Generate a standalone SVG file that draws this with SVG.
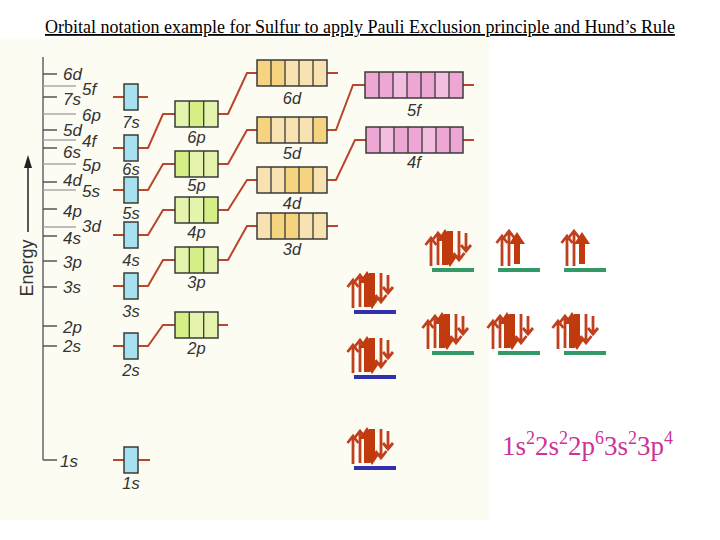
<svg xmlns="http://www.w3.org/2000/svg" xmlns:xlink="http://www.w3.org/1999/xlink" width="720" height="540" viewBox="0 0 720 540">
<style>
.lbl{font-family:"Liberation Sans","DejaVu Sans",sans-serif;font-size:16.5px;font-style:italic;fill:#333;}
.stub{stroke:#b8462a;stroke-width:2;fill:none;}
.box{fill:none;stroke:#3a3a3a;stroke-width:1.5;}
.div{stroke:#3a3a3a;stroke-width:1.3;}
.s{fill:#a6e1ef;}
.p1{fill:#d6ee86;} .p2{fill:#e4f4ac;}
.d1{fill:#f6d37f;} .d2{fill:#f9e2b2;}
.f1{fill:#eea6d4;} .f2{fill:#f3bde0;}
.tick{stroke:#555;stroke-width:1.5;}
.tickl{stroke:#aaa;stroke-width:1.5;}
.arr{fill:#c13a0e;}
.thin{stroke:#c0401e;stroke-width:2.8;fill:none;}
.blue{stroke:#3030b0;stroke-width:4;}
.green{stroke:#339966;stroke-width:4;}
</style>
<defs>
<g id="pair">
<path class="thin" d="M2,-2 V-30 M-3.5,-23 L2,-30 L7.5,-23"/>
<path class="thin" d="M9,-3 V-35 M3.5,-28 L9,-35 L14.5,-28"/>
<polygon class="arr" points="16,-39 24,-27 19,-27 19,-3 13,-3 13,-27 8,-27"/>
<polygon class="arr" points="21,-1 29,-13 24,-13 24,-37 18,-37 18,-13 13,-13"/>
<path class="thin" d="M30,-37 V-8 M24.5,-15 L30,-8 L35.5,-15"/>
<path class="thin" d="M37,-35 V-17 M32,-23 L37,-17 L42,-23"/>
</g>
<g id="half">
<path class="thin" d="M4,-2 V-32 M-1.5,-25 L4,-32 L9.5,-25"/>
<path class="thin" d="M11,-2 V-37 M5.5,-30 L11,-37 L16.5,-30"/>
<polygon class="arr" points="19,-36 27,-24 22,-24 22,-4 16,-4 16,-24 11,-24"/>
</g>
</defs>
<rect x="0" y="0" width="720" height="540" fill="#ffffff"/>
<rect x="0" y="38" width="490" height="482" fill="#fdfcf3"/>

<text x="45" y="33" font-family="Liberation Serif, serif" font-size="18" text-decoration="underline" fill="#000">Orbital notation example for Sulfur to apply Pauli Exclusion principle and Hund’s Rule</text>

<g id="axis">
<line x1="43" y1="57" x2="43" y2="460" stroke="#8a8a8a" stroke-width="2"/>
<g class="tick">
<line x1="43" y1="74" x2="57" y2="74"/><line x1="43" y1="97" x2="57" y2="97"/><line x1="43" y1="130" x2="57" y2="130"/>
<line x1="43" y1="148" x2="57" y2="148"/><line x1="43" y1="182" x2="57" y2="182"/><line x1="43" y1="209" x2="57" y2="209"/>
<line x1="43" y1="236" x2="57" y2="236"/><line x1="43" y1="261" x2="57" y2="261"/><line x1="43" y1="287" x2="57" y2="287"/>
<line x1="43" y1="326" x2="57" y2="326"/><line x1="43" y1="346" x2="57" y2="346"/><line x1="43" y1="460" x2="57" y2="460"/>
</g>
<g class="tickl">
<line x1="43" y1="86" x2="76" y2="86"/><line x1="43" y1="114" x2="76" y2="114"/><line x1="43" y1="140" x2="76" y2="140"/>
<line x1="43" y1="164" x2="76" y2="164"/><line x1="43" y1="190" x2="76" y2="190"/><line x1="43" y1="227" x2="76" y2="227"/>
</g>
<g class="lbl" style="font-size:17px">
<text x="63" y="80">6d</text><text x="63" y="105">7s</text><text x="63" y="136">5d</text><text x="63" y="158">6s</text>
<text x="63" y="186">4d</text><text x="63" y="217">4p</text><text x="63" y="244">4s</text><text x="63" y="268">3p</text>
<text x="63" y="293">3s</text><text x="63" y="333">2p</text><text x="63" y="352">2s</text><text x="60" y="467">1s</text>
<text x="82" y="95">5f</text><text x="82" y="121">6p</text><text x="82" y="147">4f</text><text x="82" y="171">5p</text>
<text x="82" y="197">5s</text><text x="82" y="232">3d</text>
</g>
<line x1="28" y1="166" x2="28" y2="232" stroke="#222" stroke-width="1.5"/>
<polygon points="28,155 24,168 32,168" fill="#222"/>
<text transform="translate(33,268) rotate(-90)" text-anchor="middle" font-family="Liberation Sans, sans-serif" font-size="18" fill="#333">Energy</text>
</g>

<g id="connectors" class="stub">
<path d="M113,97 H124 M113,148 H124 M113,190 H124 M113,235 H124 M113,286 H124 M113,346 H124 M113,460 H124"/>
<path d="M138,97 H148"/>
<path d="M138,148 H148 L163,114 H175"/>
<path d="M138,190 H148 L163,164 H175"/>
<path d="M138,235 H148 L163,210 H175"/>
<path d="M138,286 H148 L163,260 H175"/>
<path d="M138,346 H148 L163,325 H175"/>
<path d="M138,460 H150"/>
<path d="M218,114 H228 L247,73 H257"/>
<path d="M218,164 H228 L247,130 H257"/>
<path d="M218,210 H228 L247,180 H257"/>
<path d="M218,260 H228 L247,226 H257"/>
<path d="M218,325 H228"/>
<path d="M327,73 H338"/>
<path d="M327,130 H336 L353,85 H365"/>
<path d="M327,180 H336 L355,140 H366"/>
<path d="M327,226 H338"/>
<path d="M463,85 H474 M463,140 H474"/>
</g>

<g id="o-7s"><rect class="s" x="124" y="84" width="14" height="26"/><rect class="box" x="124" y="84" width="14" height="26"/><text class="lbl" x="131" y="128" text-anchor="middle">7s</text></g>
<g id="o-6s"><rect class="s" x="124" y="135" width="14" height="26"/><rect class="box" x="124" y="135" width="14" height="26"/><text class="lbl" x="131" y="175" text-anchor="middle">6s</text></g>
<g id="o-5s"><rect class="s" x="124" y="177" width="14" height="26"/><rect class="box" x="124" y="177" width="14" height="26"/><text class="lbl" x="131" y="219" text-anchor="middle">5s</text></g>
<g id="o-4s"><rect class="s" x="124" y="222" width="14" height="26"/><rect class="box" x="124" y="222" width="14" height="26"/><text class="lbl" x="131" y="266" text-anchor="middle">4s</text></g>
<g id="o-3s"><rect class="s" x="124" y="273" width="14" height="26"/><rect class="box" x="124" y="273" width="14" height="26"/><text class="lbl" x="131" y="317" text-anchor="middle">3s</text></g>
<g id="o-2s"><rect class="s" x="124" y="333" width="14" height="26"/><rect class="box" x="124" y="333" width="14" height="26"/><text class="lbl" x="131" y="376" text-anchor="middle">2s</text></g>
<g id="o-1s"><rect class="s" x="124" y="447" width="14" height="26"/><rect class="box" x="124" y="447" width="14" height="26"/><text class="lbl" x="131" y="489" text-anchor="middle">1s</text></g>

<g id="o-6p"><rect class="p2" x="175" y="101" width="14.3" height="26"/><rect class="p1" x="189.3" y="101" width="14.4" height="26"/><rect class="p2" x="203.7" y="101" width="14.3" height="26"/>
<path class="div" d="M189.3,101 V127 M203.7,101 V127"/><rect class="box" x="175" y="101" width="43" height="26"/><text class="lbl" x="196.5" y="143" text-anchor="middle">6p</text></g>
<g id="o-5p"><rect class="p1" x="175" y="151" width="14.3" height="26"/><rect class="p2" x="189.3" y="151" width="14.4" height="26"/><rect class="p2" x="203.7" y="151" width="14.3" height="26"/>
<path class="div" d="M189.3,151 V177 M203.7,151 V177"/><rect class="box" x="175" y="151" width="43" height="26"/><text class="lbl" x="196.5" y="191" text-anchor="middle">5p</text></g>
<g id="o-4p"><rect class="p2" x="175" y="197" width="14.3" height="26"/><rect class="p2" x="189.3" y="197" width="14.4" height="26"/><rect class="p1" x="203.7" y="197" width="14.3" height="26"/>
<path class="div" d="M189.3,197 V223 M203.7,197 V223"/><rect class="box" x="175" y="197" width="43" height="26"/><text class="lbl" x="196.5" y="238" text-anchor="middle">4p</text></g>
<g id="o-3p"><rect class="p2" x="175" y="247" width="14.3" height="26"/><rect class="p1" x="189.3" y="247" width="14.4" height="26"/><rect class="p2" x="203.7" y="247" width="14.3" height="26"/>
<path class="div" d="M189.3,247 V273 M203.7,247 V273"/><rect class="box" x="175" y="247" width="43" height="26"/><text class="lbl" x="196.5" y="288" text-anchor="middle">3p</text></g>
<g id="o-2p"><rect class="p1" x="175" y="312" width="14.3" height="26"/><rect class="p2" x="189.3" y="312" width="14.4" height="26"/><rect class="p2" x="203.7" y="312" width="14.3" height="26"/>
<path class="div" d="M189.3,312 V338 M203.7,312 V338"/><rect class="box" x="175" y="312" width="43" height="26"/><text class="lbl" x="196.5" y="354" text-anchor="middle">2p</text></g>

<g id="o-6d"><rect class="d1" x="257" y="60" width="14" height="26"/><rect class="d1" x="271" y="60" width="14" height="26"/><rect class="d2" x="285" y="60" width="14" height="26"/><rect class="d2" x="299" y="60" width="14" height="26"/><rect class="d2" x="313" y="60" width="14" height="26"/>
<path class="div" d="M271,60 V86 M285,60 V86 M299,60 V86 M313,60 V86"/><rect class="box" x="257" y="60" width="70" height="26"/><text class="lbl" x="292" y="104" text-anchor="middle">6d</text></g>
<g id="o-5d"><rect class="d1" x="257" y="117" width="14" height="26"/><rect class="d2" x="271" y="117" width="14" height="26"/><rect class="d2" x="285" y="117" width="14" height="26"/><rect class="d2" x="299" y="117" width="14" height="26"/><rect class="d1" x="313" y="117" width="14" height="26"/>
<path class="div" d="M271,117 V143 M285,117 V143 M299,117 V143 M313,117 V143"/><rect class="box" x="257" y="117" width="70" height="26"/><text class="lbl" x="292" y="159" text-anchor="middle">5d</text></g>
<g id="o-4d"><rect class="d2" x="257" y="167" width="14" height="26"/><rect class="d2" x="271" y="167" width="14" height="26"/><rect class="d1" x="285" y="167" width="14" height="26"/><rect class="d1" x="299" y="167" width="14" height="26"/><rect class="d2" x="313" y="167" width="14" height="26"/>
<path class="div" d="M271,167 V193 M285,167 V193 M299,167 V193 M313,167 V193"/><rect class="box" x="257" y="167" width="70" height="26"/><text class="lbl" x="292" y="209" text-anchor="middle">4d</text></g>
<g id="o-3d"><rect class="d2" x="257" y="213" width="14" height="26"/><rect class="d1" x="271" y="213" width="14" height="26"/><rect class="d1" x="285" y="213" width="14" height="26"/><rect class="d2" x="299" y="213" width="14" height="26"/><rect class="d2" x="313" y="213" width="14" height="26"/>
<path class="div" d="M271,213 V239 M285,213 V239 M299,213 V239 M313,213 V239"/><rect class="box" x="257" y="213" width="70" height="26"/><text class="lbl" x="292" y="255" text-anchor="middle">3d</text></g>

<g id="o-5f"><rect class="f1" x="365" y="72" width="98" height="26"/><rect class="f2" x="393" y="72" width="14" height="26"/><rect class="f2" x="435" y="72" width="14" height="26"/>
<path class="div" d="M379,72 V98 M393,72 V98 M407,72 V98 M421,72 V98 M435,72 V98 M449,72 V98"/><rect class="box" x="365" y="72" width="98" height="26"/><text class="lbl" x="414" y="116" text-anchor="middle">5f</text></g>
<g id="o-4f"><rect class="f1" x="366" y="127" width="97" height="26"/><rect class="f2" x="380" y="127" width="14" height="26"/><rect class="f2" x="422" y="127" width="14" height="26"/>
<path class="div" d="M380,127 V153 M394,127 V153 M408,127 V153 M422,127 V153 M436,127 V153 M450,127 V153"/><rect class="box" x="366" y="127" width="97" height="26"/><text class="lbl" x="414" y="168" text-anchor="middle">4f</text></g>

<g id="e-3s"><line class="blue" x1="354" y1="312" x2="396" y2="312"/><use xlink:href="#pair" href="#pair" transform="translate(351,310)"/></g>
<g id="e-2s"><line class="blue" x1="354" y1="377" x2="396" y2="377"/><use xlink:href="#pair" href="#pair" transform="translate(351,375)"/></g>
<g id="e-1s"><line class="blue" x1="354" y1="468" x2="396" y2="468"/><use xlink:href="#pair" href="#pair" transform="translate(351,466)"/></g>
<g id="e-3p">
<line class="green" x1="432" y1="270" x2="474" y2="270"/><line class="green" x1="498" y1="270" x2="540" y2="270"/><line class="green" x1="564" y1="270" x2="606" y2="270"/>
<use xlink:href="#pair" href="#pair" transform="translate(429,268)"/>
<use xlink:href="#half" href="#half" transform="translate(498,268)"/>
<use xlink:href="#half" href="#half" transform="translate(563,268)"/>
</g>
<g id="e-2p">
<line class="green" x1="432" y1="353" x2="474" y2="353"/><line class="green" x1="498" y1="353" x2="540" y2="353"/><line class="green" x1="564" y1="353" x2="606" y2="353"/>
<use xlink:href="#pair" href="#pair" transform="translate(426,351)"/>
<use xlink:href="#pair" href="#pair" transform="translate(491,351)"/>
<use xlink:href="#pair" href="#pair" transform="translate(556,351)"/>
</g>

<text id="config" x="502" y="455" font-family="Liberation Serif, serif" font-size="27" fill="#cc3399">1s<tspan dy="-11" font-size="18">2</tspan><tspan dy="11">2s</tspan><tspan dy="-11" font-size="18">2</tspan><tspan dy="11">2p</tspan><tspan dy="-11" font-size="18">6</tspan><tspan dy="11">3s</tspan><tspan dy="-11" font-size="18">2</tspan><tspan dy="11">3p</tspan><tspan dy="-11" font-size="18">4</tspan></text>
</svg>
